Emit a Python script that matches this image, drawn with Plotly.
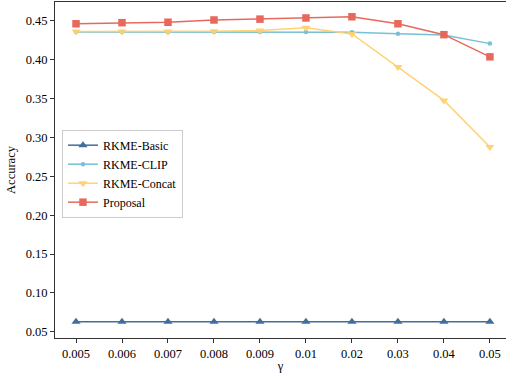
import plotly.graph_objects as go

gamma = ["0.005", "0.006", "0.007", "0.008", "0.009", "0.01", "0.02", "0.03", "0.04", "0.05"]
rkme_basic = [0.063, 0.063, 0.063, 0.063, 0.063, 0.063, 0.063, 0.063, 0.063, 0.063]
rkme_clip = [0.4355, 0.4355, 0.4350, 0.4355, 0.4355, 0.4355, 0.4350, 0.4333, 0.4316, 0.4205]
rkme_concat = [0.4362, 0.4362, 0.4362, 0.4365, 0.4375, 0.4410, 0.4330, 0.3905, 0.3475, 0.2875]
proposal = [0.4460, 0.4474, 0.4480, 0.4509, 0.4520, 0.4535, 0.4550, 0.4460, 0.4320, 0.4035]

FONT = "Liberation Serif, Times New Roman, serif"

fig = go.Figure()
series = [
    ("RKME-Basic", rkme_basic, "#376795", "triangle-up", 8),
    ("RKME-CLIP", rkme_clip, "#72bcd5", "circle", 4.5),
    ("RKME-Concat", rkme_concat, "#ffd06f", "triangle-down", 8),
    ("Proposal", proposal, "#e76254", "square", 7.5),
]
for name, vals, color, sym, size in series:
    fig.add_trace(go.Scatter(
        x=gamma, y=vals, name=name, mode="lines+markers",
        line=dict(color=color, width=1.5),
        marker=dict(color=color, symbol=sym, size=size, line=dict(width=0)),
        opacity=0.95,
    ))

fig.update_layout(
    width=506, height=373,
    margin=dict(l=55, r=0, t=2, b=35),
    paper_bgcolor="white", plot_bgcolor="white",
    font=dict(family=FONT, size=12.5, color="black"),
    showlegend=True,
    legend=dict(
        x=0.0155, y=0.62, xanchor="left", yanchor="top",
        bgcolor="rgba(255,255,255,0.8)", bordercolor="#cccccc", borderwidth=1,
        font=dict(family=FONT, size=12, color="black"),
        itemwidth=30, tracegroupgap=0,
    ),
    xaxis=dict(
        type="category", range=[-0.457, 9.35],
        showline=True, linecolor="#333333", linewidth=1, mirror=True,
        ticks="outside", ticklen=4, tickcolor="#333333",
        showgrid=False, zeroline=False,
        tickfont=dict(family=FONT, size=12.5),
        title=dict(text="γ", font=dict(family=FONT, size=12.5), standoff=1),
    ),
    yaxis=dict(
        range=[0.0421, 0.474],
        tickvals=[0.05, 0.10, 0.15, 0.20, 0.25, 0.30, 0.35, 0.40, 0.45],
        ticktext=["0.05", "0.10", "0.15", "0.20", "0.25", "0.30", "0.35", "0.40", "0.45"],
        showline=True, linecolor="#333333", linewidth=1, mirror=False,
        ticks="outside", ticklen=4, tickcolor="#333333",
        showgrid=False, zeroline=False,
        tickfont=dict(family=FONT, size=12.5),
        title=dict(text="Accuracy", font=dict(family=FONT, size=12.5), standoff=7),
    ),
)

fig.write_html(
    "out.html",
    config={"displayModeBar": False},
    post_script="document.body.style.margin='0';document.body.style.overflow='hidden';",
)
